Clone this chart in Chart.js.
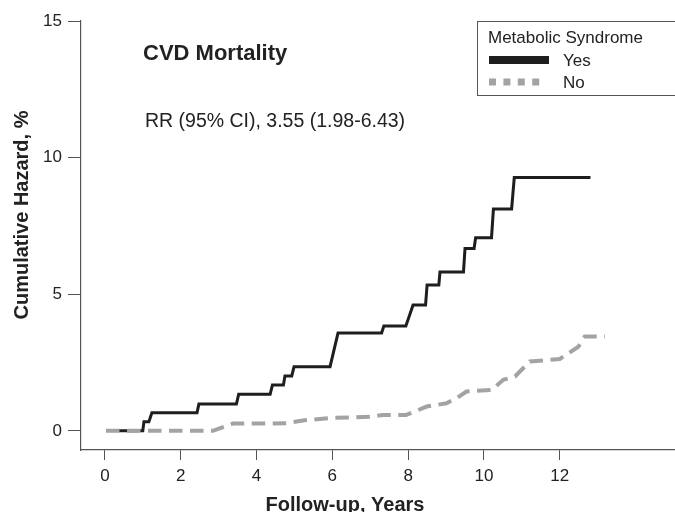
<!DOCTYPE html>
<html>
<head>
<meta charset="utf-8">
<script src="https://cdn.jsdelivr.net/npm/chart.js@4.4.1/dist/chart.umd.min.js"></script>
<style>
  body { margin: 0; background: #fff; }
  canvas { display: block; }
</style>
</head>
<body>
<canvas id="hazardChart" width="675" height="512"></canvas>
<script>
// cumulative hazard (%) by follow-up year
const yesYears = [0.35, 1.00, 1.03, 1.16, 1.24, 2.43, 2.48, 3.47, 3.53, 4.36, 4.42, 4.71, 4.75, 4.93, 4.99, 5.94, 6.15, 7.30, 7.36, 7.94, 8.13, 8.46, 8.50, 8.81, 8.84, 9.46, 9.50, 9.74, 9.78, 10.20, 10.25, 10.73, 10.80, 12.81];
const yesHazard = [0, 0, 0.33, 0.33, 0.66, 0.66, 0.98, 0.98, 1.34, 1.34, 1.68, 1.68, 2.01, 2.01, 2.35, 2.35, 3.58, 3.58, 3.84, 3.84, 4.61, 4.61, 5.34, 5.34, 5.81, 5.81, 6.67, 6.67, 7.07, 7.07, 8.12, 8.12, 9.27, 9.27];
const noYears = [0.03, 2.85, 3.38, 4.17, 4.80, 5.22, 5.94, 7.00, 7.34, 7.94, 8.49, 9.01, 9.28, 9.54, 10.20, 10.51, 10.82, 11.21, 12.00, 12.49, 12.66, 13.19];
const noHazard = [0, 0, 0.27, 0.27, 0.28, 0.38, 0.47, 0.52, 0.58, 0.58, 0.89, 1.01, 1.20, 1.44, 1.50, 1.87, 1.99, 2.54, 2.63, 3.08, 3.45, 3.45];

const xTickValues = [0, 2, 4, 6, 8, 10, 12];
const yTickValues = [0, 5, 10, 15];
const seriesLabels = ['Yes', 'No'];
const legendTitle = 'Metabolic Syndrome';
const panelTitle = 'CVD Mortality';
const riskText = 'RR (95% CI), 3.55 (1.98-6.43)';
const xTitle = 'Follow-up, Years';
const yTitle = 'Cumulative Hazard, %';

const FONT = '"Liberation Sans", Arial, sans-serif';
const axisGray = '#555';

function toPoints(xs, ys) {
  return xs.map((x, i) => ({ x: x, y: ys[i] }));
}

// titles, text and the boxed legend
const extras = {
  id: 'extras',
  afterDraw(chart) {
    const ctx = chart.ctx;
    ctx.save();
    ctx.fillStyle = '#222';
    ctx.textBaseline = 'alphabetic';
    ctx.textAlign = 'left';

    ctx.font = 'bold 22px ' + FONT;
    ctx.fillText(panelTitle, 143, 60);
    ctx.font = '19.5px ' + FONT;
    ctx.fillText(riskText, 145, 127);

    // axis titles
    ctx.font = 'bold 20px ' + FONT;
    ctx.textAlign = 'center';
    ctx.fillText(xTitle, 345, 511);
    ctx.save();
    ctx.translate(28, 215);
    ctx.rotate(-Math.PI / 2);
    ctx.fillText(yTitle, 0, 0);
    ctx.restore();

    // legend
    ctx.strokeStyle = axisGray;
    ctx.lineWidth = 1;
    ctx.strokeRect(477.5, 21.5, 230, 74);
    ctx.textAlign = 'left';
    ctx.textBaseline = 'middle';
    ctx.font = '17px ' + FONT;
    ctx.fillText(legendTitle, 488, 38);

    const rows = [60, 82];
    chart.data.datasets.forEach((ds, i) => {
      const y = rows[i];
      ctx.save();
      ctx.strokeStyle = ds.borderColor;
      if (i === 0) {
        ctx.lineWidth = 8;
        ctx.setLineDash([]);
      } else {
        ctx.lineWidth = 7;
        ctx.setLineDash([7, 7.4]);
      }
      ctx.beginPath();
      ctx.moveTo(489, y);
      ctx.lineTo(i === 0 ? 549 : 541, y);
      ctx.stroke();
      ctx.restore();
      ctx.fillText(ds.label, 563, y + 1);
    });
    ctx.restore();
  }
};

const ctx = document.getElementById('hazardChart').getContext('2d');
const chart = new Chart(ctx, {
  type: 'line',
  data: {
    datasets: [
      {
        label: seriesLabels[0],
        data: toPoints(yesYears, yesHazard),
        borderColor: '#1e1e1e',
        borderWidth: 3,
        pointRadius: 0,
        tension: 0,
        fill: false,
        order: 1
      },
      {
        label: seriesLabels[1],
        data: toPoints(noYears, noHazard),
        borderColor: '#a3a3a3',
        borderWidth: 4,
        borderDash: [13.5, 7.5],
        pointRadius: 0,
        tension: 0,
        fill: false,
        order: 0
      }
    ]
  },
  options: {
    responsive: false,
    animation: false,
    layout: { padding: { top: 21, right: 0, bottom: 0, left: 0 } },
    plugins: {
      legend: { display: false },
      tooltip: { enabled: false }
    },
    scales: {
      x: {
        type: 'linear',
        min: -0.63,
        max: 15.04,
        afterFit(scale) { scale.height = 62; },
        afterBuildTicks(scale) { scale.ticks = xTickValues.map(v => ({ value: v })); },
        border: { display: true, color: axisGray, width: 1.2 },
        grid: { drawOnChartArea: false, drawTicks: true, tickLength: 10, color: axisGray, lineWidth: 1 },
        ticks: { padding: 6, color: '#222', font: { family: FONT, size: 17 } }
      },
      y: {
        type: 'linear',
        min: -0.7,
        max: 15,
        afterFit(scale) { scale.width = 81; },
        afterBuildTicks(scale) { scale.ticks = yTickValues.map(v => ({ value: v })); },
        border: { display: true, color: axisGray, width: 1.2 },
        grid: { drawOnChartArea: false, drawTicks: true, tickLength: 13, color: axisGray, lineWidth: 1 },
        ticks: { padding: 6, color: '#222', font: { family: FONT, size: 17 } }
      }
    }
  },
  plugins: [extras]
});
</script>
</body>
</html>
